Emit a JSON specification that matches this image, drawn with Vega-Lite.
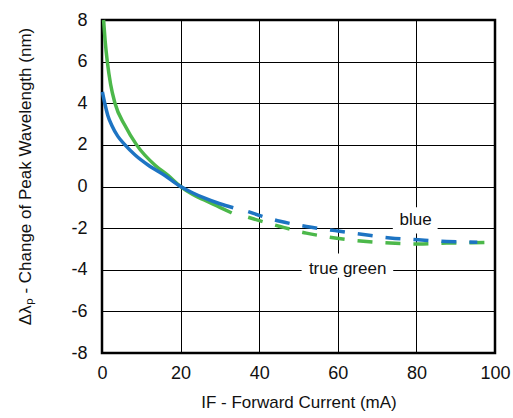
{
  "$schema": "https://vega.github.io/schema/vega-lite/v6.json",
  "width": 393,
  "height": 333,
  "autosize": {"type": "none"},
  "padding": {"left": 102, "top": 20, "right": 18, "bottom": 65},
  "background": "white",
  "config": {
    "font": "Liberation Sans",
    "view": {"stroke": "black", "strokeWidth": 2.5},
    "axis": {
      "domain": false,
      "ticks": false,
      "grid": true,
      "gridColor": "black",
      "gridWidth": 1,
      "gridOpacity": 1,
      "labelFlush": false,
      "labelFont": "Liberation Sans",
      "labelFontSize": 18,
      "labelColor": "#111",
      "labelExpr": "toString(datum.value)",
      "titleFont": "Liberation Sans",
      "titleFontSize": 17,
      "titleFontWeight": "normal",
      "titleColor": "#111"
    }
  },
  "datasets": {
    "curves": [
      {"series": "blue", "part": "solid", "x": 0.1, "y": 4.55},
      {"series": "blue", "part": "solid", "x": 0.7, "y": 4.0},
      {"series": "blue", "part": "solid", "x": 1.5, "y": 3.4},
      {"series": "blue", "part": "solid", "x": 2.5, "y": 2.93},
      {"series": "blue", "part": "solid", "x": 4.0, "y": 2.42},
      {"series": "blue", "part": "solid", "x": 5.85, "y": 2.0},
      {"series": "blue", "part": "solid", "x": 8.5, "y": 1.5},
      {"series": "blue", "part": "solid", "x": 11.8, "y": 1.02},
      {"series": "blue", "part": "solid", "x": 16, "y": 0.53},
      {"series": "blue", "part": "solid", "x": 20, "y": 0.0},
      {"series": "blue", "part": "solid", "x": 23, "y": -0.3},
      {"series": "blue", "part": "solid", "x": 26, "y": -0.55},
      {"series": "blue", "part": "solid", "x": 30, "y": -0.83},
      {"series": "blue", "part": "solid", "x": 33.4, "y": -1.02},
      {"series": "blue", "part": "dashed", "x": 37.2, "y": -1.21},
      {"series": "blue", "part": "dashed", "x": 45.3, "y": -1.67},
      {"series": "blue", "part": "dashed", "x": 52, "y": -1.92},
      {"series": "blue", "part": "dashed", "x": 59.3, "y": -2.12},
      {"series": "blue", "part": "dashed", "x": 66.5, "y": -2.31},
      {"series": "blue", "part": "dashed", "x": 73.3, "y": -2.47},
      {"series": "blue", "part": "dashed", "x": 80.5, "y": -2.56},
      {"series": "blue", "part": "dashed", "x": 87.7, "y": -2.64},
      {"series": "blue", "part": "dashed", "x": 95.5, "y": -2.68},
      {"series": "true green", "part": "solid", "x": 0.4, "y": 8.0},
      {"series": "true green", "part": "solid", "x": 0.8, "y": 7.0},
      {"series": "true green", "part": "solid", "x": 1.35, "y": 6.0},
      {"series": "true green", "part": "solid", "x": 2.2, "y": 4.9},
      {"series": "true green", "part": "solid", "x": 3.3, "y": 4.0},
      {"series": "true green", "part": "solid", "x": 5.85, "y": 2.93},
      {"series": "true green", "part": "solid", "x": 8.8, "y": 2.0},
      {"series": "true green", "part": "solid", "x": 13.5, "y": 1.02},
      {"series": "true green", "part": "solid", "x": 16.8, "y": 0.53},
      {"series": "true green", "part": "solid", "x": 20, "y": 0.0},
      {"series": "true green", "part": "solid", "x": 23, "y": -0.37},
      {"series": "true green", "part": "solid", "x": 26, "y": -0.65},
      {"series": "true green", "part": "solid", "x": 30, "y": -1.0},
      {"series": "true green", "part": "solid", "x": 33, "y": -1.27},
      {"series": "true green", "part": "dashed", "x": 37.2, "y": -1.48},
      {"series": "true green", "part": "dashed", "x": 45.3, "y": -1.92},
      {"series": "true green", "part": "dashed", "x": 52, "y": -2.24},
      {"series": "true green", "part": "dashed", "x": 59.3, "y": -2.47},
      {"series": "true green", "part": "dashed", "x": 66.5, "y": -2.63},
      {"series": "true green", "part": "dashed", "x": 73.3, "y": -2.72},
      {"series": "true green", "part": "dashed", "x": 80.5, "y": -2.76},
      {"series": "true green", "part": "dashed", "x": 87.7, "y": -2.72},
      {"series": "true green", "part": "dashed", "x": 94, "y": -2.7},
      {"series": "true green", "part": "dashed", "x": 100, "y": -2.69}
    ],
    "labels": [
      {"label": "blue", "x": 79.8, "y": -1.63, "bx0": 74.0, "bx1": 85.4, "by0": -1.0, "by1": -2.26},
      {"label": "true green", "x": 62.5, "y": -3.94, "bx0": 50.8, "bx1": 74.1, "by0": -3.22, "by1": -4.38}
    ]
  },
  "layer": [
    {
      "data": {"name": "labels"},
      "mark": {"type": "rect", "fill": "white", "stroke": null},
      "encoding": {
        "x": {
          "field": "bx0", "type": "quantitative",
          "scale": {"domain": [0, 100], "nice": false},
          "axis": {"values": [0, 20, 40, 60, 80, 100], "labelPadding": 11, "titlePadding": 12},
          "title": "IF - Forward Current (mA)"
        },
        "x2": {"field": "bx1"},
        "y": {
          "field": "by0", "type": "quantitative",
          "scale": {"domain": [-8, 8], "nice": false},
          "axis": {"values": [-8, -6, -4, -2, 0, 2, 4, 6, 8], "labelPadding": 15, "titlePadding": 36, "titleY": 156},
          "title": "Δλₚ - Change of Peak Wavelength (nm)"
        },
        "y2": {"field": "by1"}
      }
    },
    {
      "data": {"name": "labels"},
      "mark": {"type": "text", "font": "Liberation Sans", "fontSize": 17, "color": "#111", "align": "center", "baseline": "middle"},
      "encoding": {
        "x": {"field": "x", "type": "quantitative"},
        "y": {"field": "y", "type": "quantitative"},
        "text": {"field": "label"}
      }
    },
    {
      "data": {"name": "curves"},
      "transform": [{"filter": "datum.series === 'true green' && datum.part === 'solid'"}],
      "mark": {"type": "line", "color": "#4cb84a", "strokeWidth": 3.5, "interpolate": "monotone"},
      "encoding": {
        "x": {"field": "x", "type": "quantitative"},
        "y": {"field": "y", "type": "quantitative"}
      }
    },
    {
      "data": {"name": "curves"},
      "transform": [{"filter": "datum.series === 'true green' && datum.part === 'dashed'"}],
      "mark": {"type": "line", "color": "#4cb84a", "strokeWidth": 3.5, "strokeDash": [15, 13], "interpolate": "monotone"},
      "encoding": {
        "x": {"field": "x", "type": "quantitative"},
        "y": {"field": "y", "type": "quantitative"}
      }
    },
    {
      "data": {"name": "curves"},
      "transform": [{"filter": "datum.series === 'blue' && datum.part === 'solid'"}],
      "mark": {"type": "line", "color": "#1d74c3", "strokeWidth": 3.5, "interpolate": "monotone"},
      "encoding": {
        "x": {"field": "x", "type": "quantitative"},
        "y": {"field": "y", "type": "quantitative"}
      }
    },
    {
      "data": {"name": "curves"},
      "transform": [{"filter": "datum.series === 'blue' && datum.part === 'dashed'"}],
      "mark": {"type": "line", "color": "#1d74c3", "strokeWidth": 3.5, "strokeDash": [15, 13], "interpolate": "monotone"},
      "encoding": {
        "x": {"field": "x", "type": "quantitative"},
        "y": {"field": "y", "type": "quantitative"}
      }
    }
  ]
}
